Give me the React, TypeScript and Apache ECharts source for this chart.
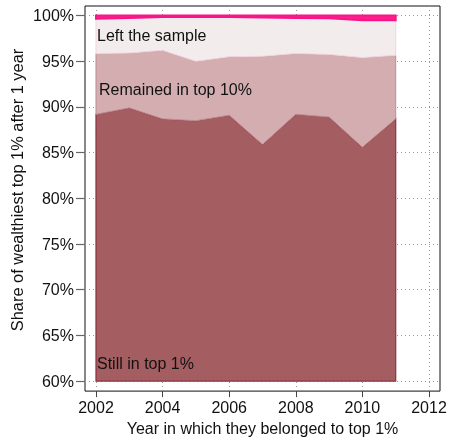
import React, { useEffect, useRef } from "react";
import * as echarts from "echarts";

const years = [2002, 2003, 2004, 2005, 2006, 2007, 2008, 2009, 2010, 2011];
const stillTop1 = [89.2, 89.9, 88.7, 88.5, 89.1, 85.9, 89.2, 88.9, 85.6, 88.7];
const remainedTop10 = [6.65, 6.0, 7.5, 6.5, 6.4, 9.65, 6.65, 6.85, 9.8, 6.95];
const leftSample = [3.8, 3.85, 3.65, 4.85, 4.35, 4.25, 3.9, 3.95, 4.1, 3.85];
const otherExit = [0.35, 0.25, 0.15, 0.15, 0.15, 0.2, 0.25, 0.3, 0.5, 0.5];
const xTicks = [2002, 2004, 2006, 2008, 2010, 2012];
const yTicks = [60, 65, 70, 75, 80, 85, 90, 95, 100];
const baseline = 60;

const FONT = "Liberation Sans, Arial, Helvetica, sans-serif";
const FS = 16;

const layers = [
  { name: "Still in top 1%", values: stillTop1, fill: "#a45e62", stroke: "#8e3040", width: 1.2 },
  { name: "Remained in top 10%", values: remainedTop10, fill: "#d3adb0", stroke: "#bf8d93", width: 1 },
  { name: "Left the sample", values: leftSample, fill: "#f3eced", stroke: "#f4d3de", width: 1 },
  { name: "Other", values: otherExit, fill: "#ff1f8a", stroke: "#f7168a", width: 2 },
];

function buildBounds() {
  const lows: number[][] = [];
  const highs: number[][] = [];
  let cur = years.map(() => 0);
  layers.forEach((l, i) => {
    const low = i === 0 ? years.map(() => baseline) : cur.slice();
    const high = cur.map((c, j) => c + l.values[j]);
    lows.push(low);
    highs.push(high);
    cur = high;
  });
  return { lows, highs };
}

export default function App() {
  const ref = useRef<HTMLDivElement>(null);
  useEffect(() => {
    if (!ref.current) return;
    const chart = echarts.init(ref.current, null, { renderer: "svg" });
    const { lows, highs } = buildBounds();
    const series: any[] = layers.map((l, li) => ({
      type: "custom",
      name: l.name,
      coordinateSystem: "cartesian2d",
      data: years.map((y, j) => [y, highs[li][j]]),
      z: 2 + li,
      renderItem: (params: any, api: any) => {
        if (params.dataIndex !== 0) return null;
        const top = years.map((y, j) => api.coord([y, highs[li][j]]));
        const bottom = years.map((y, j) => api.coord([y, lows[li][j]])).reverse();
        return {
          type: "polygon",
          shape: { points: top.concat(bottom) },
          style: { fill: l.fill, stroke: l.stroke, lineWidth: l.width, lineJoin: "miter" },
        };
      },
    }));
    const gridLine = { show: true, lineStyle: { type: [1, 3], color: "#999", width: 1 } };
    chart.setOption({
      animation: false,
      textStyle: { fontFamily: FONT },
      grid: {
        left: 85,
        right: 10,
        top: 6,
        bottom: 49,
        show: true,
        borderColor: "#111",
        borderWidth: 1,
        backgroundColor: "transparent",
      },
      xAxis: {
        type: "value",
        min: 2001.67,
        max: 2012.33,
        axisLine: { show: false },
        axisTick: {
          show: true,
          customValues: xTicks,
          length: 6,
          lineStyle: { color: "#444", width: 1 },
        },
        axisLabel: {
          customValues: xTicks,
          formatter: (v: number) => String(v),
          fontSize: FS,
          color: "#111",
          margin: 8,
          fontFamily: FONT,
        },
        splitLine: gridLine,
        name: "Year in which they belonged to top 1%",
        nameLocation: "middle",
        nameGap: 27,
        nameTextStyle: { fontSize: FS, color: "#111", fontFamily: FONT },
      },
      yAxis: {
        type: "value",
        min: 58.9,
        max: 101.05,
        axisLine: { show: false },
        axisTick: {
          show: true,
          customValues: yTicks,
          length: 9,
          lineStyle: { color: "#666", width: 1.2 },
        },
        axisLabel: {
          customValues: yTicks,
          formatter: (v: number) => v + "%",
          fontSize: FS,
          color: "#111",
          margin: 11,
          fontFamily: FONT,
        },
        splitLine: gridLine,
      },
      series,
      graphic: [
        {
          type: "text",
          x: 17,
          y: 190,
          rotation: Math.PI / 2,
          z: 100,
          style: {
            text: "Share of wealthiest top 1% after 1 year",
            fontSize: 16.4,
            fill: "#111",
            fontFamily: FONT,
            align: "center",
            verticalAlign: "middle",
          },
        },
        { type: "text", left: 97, top: 27, z: 100, style: { text: "Left the sample", fontSize: FS, fill: "#111", fontFamily: FONT } },
        { type: "text", left: 99, top: 81, z: 100, style: { text: "Remained in top 10%", fontSize: FS, fill: "#111", fontFamily: FONT } },
        { type: "text", left: 97, top: 355, z: 100, style: { text: "Still in top 1%", fontSize: FS, fill: "#111", fontFamily: FONT } },
      ],
    });
    return () => chart.dispose();
  }, []);
  return (
    <div
      ref={ref}
      style={{ position: "fixed", left: 0, top: 0, width: 450, height: 441 }}
    />
  );
}
